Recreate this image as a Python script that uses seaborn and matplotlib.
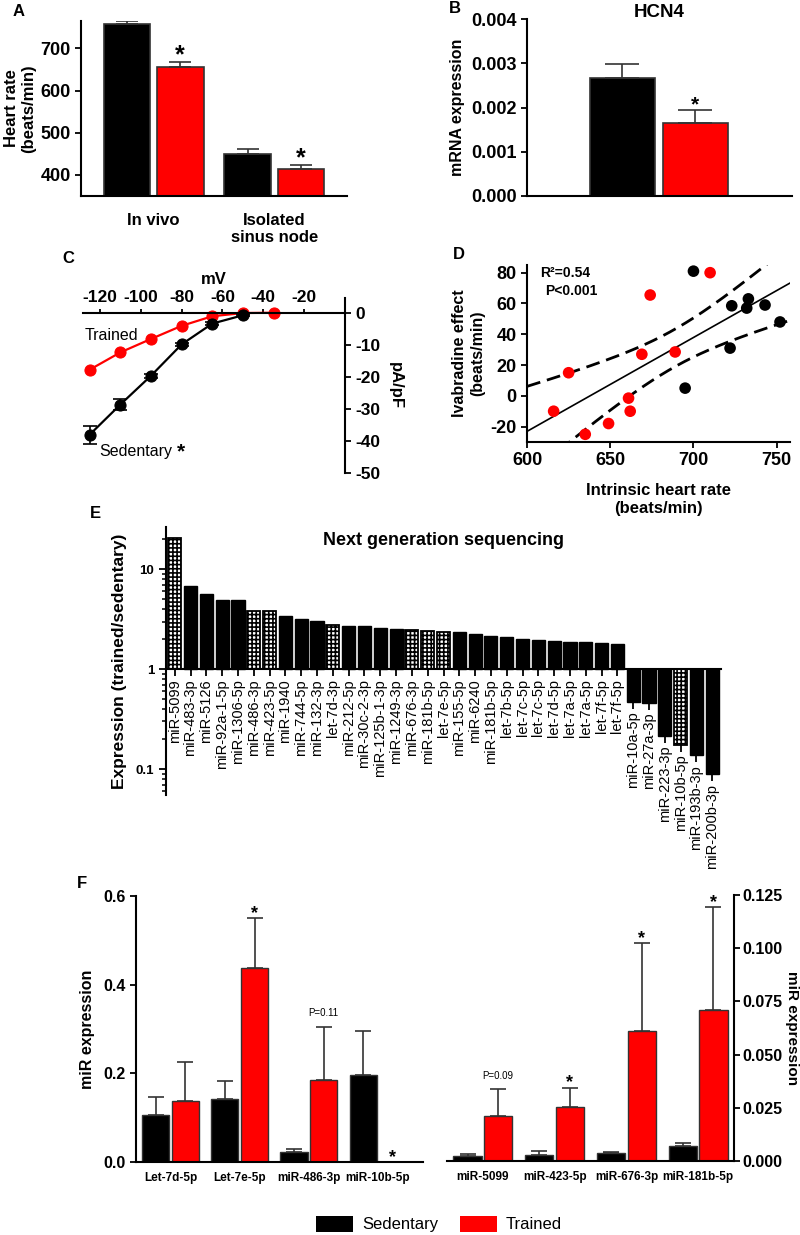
import matplotlib
matplotlib.use('Agg')
import matplotlib.pyplot as plt
import numpy as np
import pandas as pd
import seaborn as sns
from matplotlib.patches import Patch
from matplotlib.ticker import NullFormatter

# ---- A: heart rate ----
hr_groups = ['In vivo', 'Isolated\nsinus node']
hr_sed = [757, 450]
hr_sed_err = [7, 11]
hr_trn = [656, 413]
hr_trn_err = [12, 10]

# ---- B: HCN4 mRNA ----
hcn4_sed = 0.00266
hcn4_sed_err = 0.00032
hcn4_trn = 0.00166
hcn4_trn_err = 0.00028

# ---- C: I-V curve ----
mv_sed = [-125, -110, -95, -80, -65, -50]
cur_sed = [-38.0, -28.6, -19.6, -9.8, -3.3, -0.7]
cur_sed_err = [2.8, 1.8, 0.6, 0.5, 0.4, 0.3]
mv_trn = [-125, -110, -95, -80, -65, -50, -35]
cur_trn = [-17.7, -12.3, -8.1, -4.0, -1.0, 0.0, 0.1]
cur_trn_err = [0.5, 0.4, 0.4, 0.3, 0.3, 0.2, 0.2]

# ---- D: ivabradine vs intrinsic HR ----
ihr_sed = [700, 723, 732, 733, 743, 752, 722, 695]
iva_sed = [81, 58.5, 57, 63, 59, 48, 31, 5]
ihr_trn = [710, 674, 625, 616, 635, 649, 661, 662, 669, 689]
iva_trn = [80, 65.5, 15, -10, -25, -18, -1.5, -10, 27, 28.5]

# ---- E: sequencing ----
ngs_names = ['miR-5099', 'miR-483-3p', 'miR-5126', 'miR-92a-1-5p', 'miR-1306-5p',
             'miR-486-3p', 'miR-423-5p', 'miR-1940', 'miR-744-5p', 'miR-132-3p',
             'let-7d-3p', 'miR-212-5p', 'miR-30c-2-3p', 'miR-125b-1-3p', 'miR-1249-3p',
             'miR-676-3p', 'miR-181b-5p', 'let-7e-5p', 'miR-155-5p', 'miR-6240',
             'miR-181b-5p', 'let-7b-5p', 'let-7c-5p', 'let-7c-5p', 'let-7d-5p',
             'let-7a-5p', 'let-7a-5p', 'let-7f-5p', 'let-7f-5p', 'miR-10a-5p',
             'miR-27a-3p', 'miR-223-3p', 'miR-10b-5p', 'miR-193b-3p', 'miR-200b-3p']
ngs_fold = [20.4, 6.8, 5.66, 4.93, 4.93, 3.83, 3.83, 3.44, 3.21, 3.06,
            2.79, 2.73, 2.73, 2.61, 2.55, 2.49, 2.41, 2.38, 2.38, 2.25,
            2.15, 2.09, 2.01, 1.98, 1.93, 1.86, 1.85, 1.82, 1.80, 0.474,
            0.457, 0.215, 0.175, 0.137, 0.0897]
ngs_validated = [1, 0, 0, 0, 0, 1, 1, 0, 0, 0,
                 1, 0, 0, 0, 0, 1, 1, 1, 0, 0,
                 0, 0, 0, 0, 0, 0, 0, 0, 0, 0,
                 0, 0, 1, 0, 0]

# ---- F: qPCR ----
f_left_mirs = ['Let-7d-5p', 'Let-7e-5p', 'miR-486-3p', 'miR-10b-5p']
f_left_sed = [0.106, 0.141, 0.023, 0.196]
f_left_sed_err = [0.041, 0.042, 0.007, 0.099]
f_left_trn = [0.137, 0.438, 0.185, 0.0]
f_left_trn_err = [0.088, 0.113, 0.120, 0.0]
f_left_marks = ['', '*', 'P=0.11', '*']

f_right_mirs = ['miR-5099', 'miR-423-5p', 'miR-676-3p', 'miR-181b-5p']
f_right_sed = [0.0024, 0.0027, 0.0036, 0.0071]
f_right_sed_err = [0.0007, 0.0020, 0.0006, 0.0012]
f_right_trn = [0.0212, 0.0256, 0.0609, 0.0711]
f_right_trn_err = [0.0125, 0.0089, 0.0416, 0.0483]
f_right_marks = ['P=0.09', '*', '*', '*']

pal = {'Sedentary': 'black', 'Trained': '#ff0000'}
edge = '#333333'

sns.set_style('ticks')
plt.rcParams['font.family'] = ['Liberation Sans', 'DejaVu Sans']
plt.rcParams['font.weight'] = 'bold'
plt.rcParams['axes.labelweight'] = 'bold'
plt.rcParams['axes.unicode_minus'] = False
plt.rcParams['axes.linewidth'] = 1.5
plt.rcParams['axes.edgecolor'] = 'black'
plt.rcParams['text.color'] = 'black'
plt.rcParams['axes.labelcolor'] = 'black'
plt.rcParams['xtick.color'] = 'black'
plt.rcParams['ytick.color'] = 'black'
plt.rcParams['xtick.major.width'] = 1.3
plt.rcParams['ytick.major.width'] = 1.3
plt.rcParams['xtick.major.size'] = 4
plt.rcParams['ytick.major.size'] = 4
plt.rcParams['hatch.linewidth'] = 1.2

W, H = 800, 1235
fig = plt.figure(figsize=(W / 100, H / 100), dpi=100)


def box(l, t, r, b):
    return [l / W, 1 - b / H, (r - l) / W, (b - t) / H]


def grouped_bars(ax, cats, sed, trn, width, gap, lw=1.2):
    df = pd.DataFrame({'cat': cats * 2,
                       'group': ['Sedentary'] * len(cats) + ['Trained'] * len(cats),
                       'val': sed + trn})
    sns.barplot(data=df, x='cat', y='val', hue='group', palette=pal, width=width,
                gap=gap, errorbar=None, legend=False, edgecolor=edge, linewidth=lw,
                saturation=1, ax=ax)
    ax.set_xlabel('')
    ax.set_ylabel('')
    pos = np.arange(len(cats))
    return pos - width / 4, pos + width / 4


def up_err(ax, x, y, e, cap):
    ax.errorbar(x, y, yerr=[np.zeros(len(y)), e], fmt='none', ecolor=edge,
                elinewidth=1.2, capsize=cap, capthick=1.2)


# ---------------- A ----------------
ax = fig.add_axes(box(81, 21, 347, 196))
xs, xt = grouped_bars(ax, hr_groups, hr_sed, hr_trn, 0.88, 0.12)
up_err(ax, xs, hr_sed, hr_sed_err, 8)
up_err(ax, xt, hr_trn, hr_trn_err, 8)
for x, v, e in zip(xt, hr_trn, hr_trn_err):
    ax.text(x, v + e, '*', ha='center', va='baseline', fontsize=18)
ax.set_ylim(350, 765)
ax.set_xlim(-0.6, 1.6)
ax.set_yticks([400, 500, 600, 700])
ax.tick_params(axis='y', labelsize=13)
ax.tick_params(axis='x', length=0, pad=12, labelsize=12)
ax.set_ylabel('Heart rate\n(beats/min)', fontsize=12, labelpad=3)
sns.despine(ax=ax)

# ---------------- B ----------------
ax = fig.add_axes(box(527, 19, 792, 196))
xs, xt = grouped_bars(ax, ['HCN4'], [hcn4_sed], [hcn4_trn], 0.8, 0.11)
up_err(ax, xs, [hcn4_sed], [hcn4_sed_err], 12)
up_err(ax, xt, [hcn4_trn], [hcn4_trn_err], 12)
ax.text(xt[0], hcn4_trn + hcn4_trn_err, '*', ha='center', va='baseline', fontsize=15)
ax.set_xlim(-0.72, 0.73)
ax.set_ylim(0, 0.004)
ax.set_yticks([0, 0.001, 0.002, 0.003, 0.004])
ax.set_yticklabels(['0.000', '0.001', '0.002', '0.003', '0.004'])
ax.tick_params(axis='y', labelsize=13)
ax.set_xticks([])
ax.text(0.5, 1.012, 'HCN4', transform=ax.transAxes, ha='center', va='baseline', fontsize=13.5)
ax.set_ylabel('mRNA expression', fontsize=11.5, labelpad=4)
sns.despine(ax=ax)

# ---------------- C ----------------
ax = fig.add_axes(box(83, 298, 345, 473))
sns.lineplot(x=mv_trn, y=cur_trn, color='#ff0000', marker='o', markersize=8,
             markeredgecolor='#ff0000', linewidth=1.6, ax=ax)
sns.lineplot(x=mv_sed, y=cur_sed, color='black', marker='o', markersize=8,
             markeredgecolor='black', linewidth=1.6, ax=ax)
ax.errorbar(mv_sed, cur_sed, yerr=cur_sed_err, fmt='none', ecolor='black',
            elinewidth=1.2, capsize=5, capthick=1.2)
ax.set_xlim(-128.3, 0)
ax.set_ylim(-50, 4.7)
ax.spines['left'].set_visible(False)
ax.spines['bottom'].set_visible(False)
ax.spines['top'].set_position(('data', 0))
ax.xaxis.tick_top()
ax.xaxis.set_label_position('top')
ax.yaxis.tick_right()
ax.yaxis.set_label_position('right')
ax.set_xticks([-120, -100, -80, -60, -40, -20])
ax.set_yticks([0, -10, -20, -30, -40, -50])
ax.tick_params(axis='both', labelsize=12.5)
ax.tick_params(axis='x', length=3, pad=3)
ax.set_xlabel('mV', fontsize=12, labelpad=4)
ax.set_ylabel('pA/pF', fontsize=12, rotation=270, labelpad=16)
ax.text(-127.4, -6.9, 'Trained', fontsize=11.5, fontweight='normal', va='center', ha='left')
ax.text(-120.5, -43.4, 'Sedentary', fontsize=11.5, fontweight='normal', va='center', ha='left')
ax.text(-80.5, -43.4, '*', fontsize=15, va='center', ha='center')

# ---------------- D ----------------
ax = fig.add_axes(box(527, 265, 790, 442))
dfd = pd.DataFrame({'ihr': ihr_sed + ihr_trn, 'iva': iva_sed + iva_trn,
                    'group': ['Sedentary'] * len(ihr_sed) + ['Trained'] * len(ihr_trn)})
sns.scatterplot(data=dfd, x='ihr', y='iva', hue='group', palette=pal, s=70,
                linewidth=0, legend=False, ax=ax, zorder=3)
ax.set_xlim(600, 758)
ax.set_ylim(-30, 85)
xv = dfd['ihr'].to_numpy(float)
yv = dfd['iva'].to_numpy(float)
n = len(xv)
b1, b0 = np.polyfit(xv, yv, 1)
res = yv - (b0 + b1 * xv)
s = np.sqrt(np.sum(res ** 2) / (n - 2))
xm = xv.mean()
sxx = np.sum((xv - xm) ** 2)
xl = np.linspace(600, 758, 200)
yl = b0 + b1 * xl
half = 2.12 * s * np.sqrt(1 / n + (xl - xm) ** 2 / sxx)
ax.plot(xl, yl, color='black', lw=1.2)
ax.plot(xl, yl + half, color='black', lw=2, ls=(0, (5, 2.5)))
ax.plot(xl, yl - half, color='black', lw=2, ls=(0, (5, 2.5)))
ax.set_xticks([600, 650, 700, 750])
ax.set_yticks([-20, 0, 20, 40, 60, 80])
ax.tick_params(axis='both', labelsize=13)
ax.set_xlabel('Intrinsic heart rate\n(beats/min)', fontsize=12, labelpad=10)
ax.set_ylabel('Ivabradine effect\n(beats/min)', fontsize=11.5, labelpad=4)
ax.text(0.05, 0.955, 'R²=0.54', transform=ax.transAxes, fontsize=10, va='center')
ax.text(0.07, 0.855, 'P<0.001', transform=ax.transAxes, fontsize=10, va='center')
sns.despine(ax=ax)

# ---------------- E ----------------
ax = fig.add_axes(box(166, 527, 721, 795))
fold = np.array(ngs_fold)
for i, (v, hv) in enumerate(zip(fold, ngs_validated)):
    if hv:
        ax.bar(i, v - 1, bottom=1, width=0.83, color='white', edgecolor='black',
               hatch='++++', linewidth=1.3)
    else:
        ax.bar(i, v - 1, bottom=1, width=0.83, color='black', edgecolor='black',
               linewidth=1.0)
ax.set_yscale('log')
ax.set_ylim(0.055, 26.5)
ax.set_xlim(-0.55, len(ngs_names) - 0.45)
ax.spines['bottom'].set_position(('data', 1))
ax.spines['top'].set_visible(False)
ax.spines['right'].set_visible(False)
ax.set_xticks([])
ax.set_yticks([0.1, 1, 10])
ax.set_yticklabels(['0.1', '1', '10'])
ax.yaxis.set_minor_formatter(NullFormatter())
ax.tick_params(axis='y', which='major', labelsize=9.5, length=5)
ax.tick_params(axis='y', which='minor', length=3, width=1.1)
for i, (nm, v) in enumerate(zip(ngs_names, fold)):
    base = min(v, 1)
    ax.plot(i, base, marker=3, ms=5, mew=1.3, color='black', clip_on=False)
    ax.annotate(nm, xy=(i, base), xytext=(0, -7), textcoords='offset points',
                rotation=90, ha='center', va='top', fontsize=10.5, fontweight='normal')
ax.set_ylabel('Expression (trained/sedentary)', fontsize=12.5, labelpad=6)
ax.text(0.5, 0.95, 'Next generation sequencing', transform=ax.transAxes,
        ha='center', va='center', fontsize=13)

# ---------------- F left ----------------
ax = fig.add_axes(box(136, 896, 423, 1162))
xs, xt = grouped_bars(ax, f_left_mirs, f_left_sed, f_left_trn, 0.86, 0.09, lw=1.0)
up_err(ax, xs, f_left_sed, f_left_sed_err, 6)
up_err(ax, xt, f_left_trn, f_left_trn_err, 6)
for x, v, e, m in zip(xt, f_left_trn, f_left_trn_err, f_left_marks):
    if m == '*':
        ax.text(x, v + e, '*', ha='center', va='baseline', fontsize=13)
    elif m:
        ax.annotate(m, xy=(x, v + e), xytext=(0, 6), textcoords='offset points',
                    ha='center', va='bottom', fontsize=7, fontweight='normal')
ax.set_xlim(-0.5, 3.65)
ax.set_ylim(0, 0.6)
ax.set_yticks([0, 0.2, 0.4, 0.6])
ax.set_yticklabels(['0.0', '0.2', '0.4', '0.6'])
ax.tick_params(axis='y', labelsize=11.5)
ax.tick_params(axis='x', length=0, pad=7, labelsize=8.5)
ax.set_ylabel('miR expression', fontsize=11.5, labelpad=6)
sns.despine(ax=ax)

# ---------------- F right ----------------
ax = fig.add_axes(box(447, 895, 734, 1161))
xs, xt = grouped_bars(ax, f_right_mirs, f_right_sed, f_right_trn, 0.855, 0.075, lw=1.0)
up_err(ax, xs, f_right_sed, f_right_sed_err, 6)
up_err(ax, xt, f_right_trn, f_right_trn_err, 6)
for x, v, e, m in zip(xt, f_right_trn, f_right_trn_err, f_right_marks):
    if m == '*':
        ax.text(x, v + e, '*', ha='center', va='baseline', fontsize=13)
    elif m:
        ax.annotate(m, xy=(x, v + e), xytext=(0, 6), textcoords='offset points',
                    ha='center', va='bottom', fontsize=7, fontweight='normal')
ax.set_xlim(-0.5, 3.5)
ax.set_ylim(0, 0.125)
ax.spines['left'].set_visible(False)
ax.spines['top'].set_visible(False)
ax.yaxis.tick_right()
ax.yaxis.set_label_position('right')
ax.set_yticks([0, 0.025, 0.05, 0.075, 0.1, 0.125])
ax.set_yticklabels(['0.000', '0.025', '0.050', '0.075', '0.100', '0.125'])
ax.tick_params(axis='y', labelsize=11.5, pad=2)
ax.tick_params(axis='x', length=0, pad=7, labelsize=8.5)
ax.set_ylabel('miR expression', fontsize=11, rotation=270, labelpad=12)

# ---------------- legend + panel letters ----------------
handles = [Patch(facecolor='black', edgecolor='none'),
           Patch(facecolor='#ff0000', edgecolor='none')]
fig.legend(handles, ['Sedentary', 'Trained'], loc='center', bbox_to_anchor=(0.549, 0.0089),
           ncol=2, frameon=False, prop={'size': 12, 'weight': 'normal'},
           handlelength=2.2, handleheight=1.1, columnspacing=1.3, handletextpad=0.55)

for lab, px, py in [('A', 13, 4), ('B', 449, 1), ('C', 62, 251), ('D', 453, 247),
                    ('E', 90, 506), ('F', 77, 876)]:
    fig.text(px / W, 1 - py / H, lab, fontsize=12, ha='left', va='top')

fig.savefig('out.png', dpi=100)
